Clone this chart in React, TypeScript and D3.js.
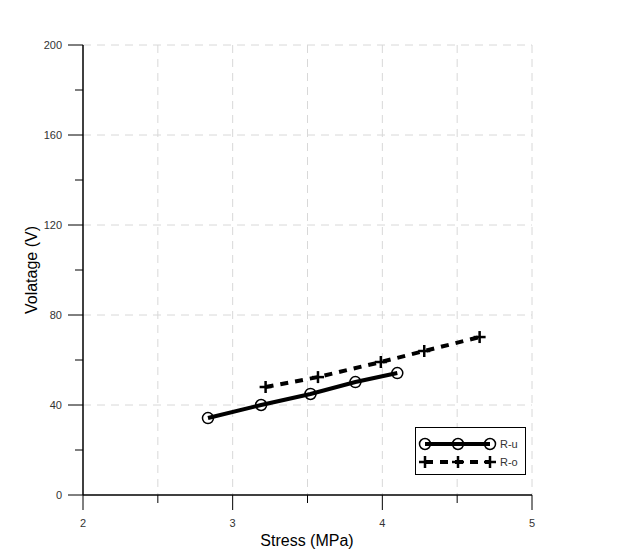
import React from "react";
import * as d3 from "d3";

const ruStress = [2.835, 3.19, 3.52, 3.82, 4.1];
const ruVolt = [34.2, 40, 44.9, 50.2, 54.2];
const roStress = [3.22, 3.57, 3.99, 4.28, 4.65];
const roVolt = [48, 52.4, 59.1, 64, 70.2];
const xMajor = [2, 3, 4, 5];
const xMinor = [2.5, 3.5, 4.5];
const yMajor = [0, 40, 80, 120, 160, 200];
const yMinor = [20, 60, 100, 140, 180];

export default function App() {
  const W = 630, H = 557;
  const x = d3.scaleLinear().domain([2, 5]).range([83, 532]);
  const y = d3.scaleLinear().domain([0, 200]).range([495, 45]);
  const font = "'Liberation Sans', Arial, sans-serif";
  const ru = ruStress.map((s, i) => [x(s), y(ruVolt[i])] as [number, number]);
  const ro = roStress.map((s, i) => [x(s), y(roVolt[i])] as [number, number]);
  const line = d3.line();
  const plus = (cx: number, cy: number, k: string) => (
    <g key={k} stroke="#000" strokeWidth={2.5}>
      <line x1={cx - 6} x2={cx + 6} y1={cy} y2={cy} />
      <line x1={cx} x2={cx} y1={cy - 6} y2={cy + 6} />
    </g>
  );
  const lx = [425, 458, 490];
  return (
    <svg width={W} height={H} style={{ position: "absolute", left: 0, top: 0 }}>
      <rect width={W} height={H} fill="#fff" />
      {/* grid */}
      {[...xMinor, 3, 4, 5].map((v) => (
        <line key={"gx" + v} x1={x(v)} x2={x(v)} y1={y(200)} y2={y(0)} stroke="#d8d8d8" strokeWidth={1} strokeDasharray="8,6" />
      ))}
      {yMajor.filter((v) => v > 0).map((v) => (
        <line key={"gy" + v} x1={x(2)} x2={x(5)} y1={y(v)} y2={y(v)} stroke="#d8d8d8" strokeWidth={1} strokeDasharray="8,6" />
      ))}
      {/* axes */}
      <line x1={x(2)} x2={x(2)} y1={y(200)} y2={y(0)} stroke="#000" strokeWidth={1.5} />
      <line x1={x(2)} x2={x(5)} y1={y(0)} y2={y(0)} stroke="#000" strokeWidth={1.5} />
      {yMajor.map((v) => (
        <g key={"ym" + v}>
          <line x1={x(2) - 15} x2={x(2)} y1={y(v)} y2={y(v)} stroke="#000" strokeWidth={1} />
          <text x={62} y={y(v) + 4} textAnchor="end" fontSize={11} fontFamily={font} fill="#333">{v}</text>
        </g>
      ))}
      {yMinor.map((v) => (
        <line key={"yn" + v} x1={x(2) - 8} x2={x(2)} y1={y(v)} y2={y(v)} stroke="#000" strokeWidth={1} />
      ))}
      {xMajor.map((v) => (
        <g key={"xm" + v}>
          <line x1={x(v)} x2={x(v)} y1={y(0)} y2={y(0) + 15} stroke="#000" strokeWidth={1} />
          <text x={x(v)} y={y(0) + 32} textAnchor="middle" fontSize={11} fontFamily={font} fill="#333">{v}</text>
        </g>
      ))}
      {xMinor.map((v) => (
        <line key={"xn" + v} x1={x(v)} x2={x(v)} y1={y(0)} y2={y(0) + 8} stroke="#000" strokeWidth={1} />
      ))}
      <text x={307} y={546} textAnchor="middle" fontSize={16} fontFamily={font}>Stress (MPa)</text>
      <text transform="translate(37,270) rotate(-90)" textAnchor="middle" fontSize={16} fontFamily={font}>Volatage (V)</text>
      {/* series */}
      <path d={line(ru) || ""} fill="none" stroke="#000" strokeWidth={4} />
      {ru.map(([cx, cy], i) => (
        <circle key={"c" + i} cx={cx} cy={cy} r={5.5} fill="none" stroke="#000" strokeWidth={1.5} />
      ))}
      <path d={line(ro) || ""} fill="none" stroke="#000" strokeWidth={4} strokeDasharray="8,7" />
      {ro.map(([cx, cy], i) => plus(cx, cy, "p" + i))}
      {/* legend */}
      <rect x={415.5} y={427.5} width={110} height={47} fill="#fff" stroke="#000" strokeWidth={1} />
      <line x1={lx[0]} x2={lx[2]} y1={444} y2={444} stroke="#000" strokeWidth={4} />
      {lx.map((cx) => (
        <circle key={"lc" + cx} cx={cx} cy={444} r={5.5} fill="none" stroke="#000" strokeWidth={1.5} />
      ))}
      <text x={500} y={448} fontSize={11} fontFamily={font} fill="#333">R-u</text>
      <line x1={lx[0]} x2={lx[2]} y1={462} y2={462} stroke="#000" strokeWidth={4} strokeDasharray="8,7" />
      {lx.map((cx) => plus(cx, 462, "lp" + cx))}
      <text x={500} y={466} fontSize={11} fontFamily={font} fill="#333">R-o</text>
    </svg>
  );
}
